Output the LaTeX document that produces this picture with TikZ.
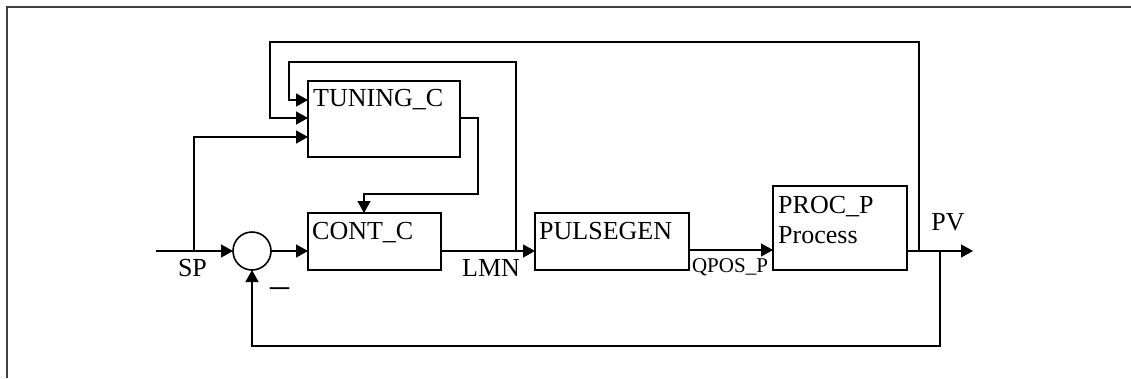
\documentclass[tikz,border=0pt]{standalone}
\usepackage{fontspec}
\setmainfont{Liberation Serif}
\usetikzlibrary{arrows.meta}
\begin{document}
\begin{tikzpicture}[x=1pt,y=-1pt,
  wire/.style={line width=1.6pt},
  arr/.style={wire,-{Triangle[length=12pt,width=13pt]}},
  block/.style={draw,line width=1.6pt,rectangle,inner sep=0pt,outer sep=0pt},
  txt/.style={font=\fontsize{26}{30}\selectfont,inner sep=0pt,anchor=base west},
  lbl/.style={font=\fontsize{26}{30}\selectfont,inner sep=0pt,anchor=base}]
\useasboundingbox (0,0) rectangle (1131,378);
\draw[line width=2pt,black!75] (7,378) -- (7,7) -- (1131,7);
% blocks
\node[block,minimum width=152pt,minimum height=76pt] (tun) at (384,119) {};
\node[block,minimum width=133pt,minimum height=57pt] (cont) at (374.5,241.5) {};
\node[block,minimum width=154pt,minimum height=57pt] (pulse) at (612,241.5) {};
\node[block,minimum width=134pt,minimum height=84pt] (proc) at (840,228) {};
\node[draw,circle,line width=1.6pt,minimum size=38pt,inner sep=0pt,outer sep=0pt] (sum) at (252,251) {};
% block texts
\node[txt] (tuntxt) at (313,106) {TUNING\_C};
\node[txt] (conttxt) at (312,239) {CONT\_C};
\node[txt] (pulsetxt) at (539,239) {PULSEGEN};
\node[txt] (proctxt) at (778,213) {PROC\_P};
\node[txt] (proctxt2) at (778,243) {Process};
% labels
\node[lbl] (sp) at (192.5,276) {SP};
\node[lbl] (lmn) at (491,276) {LMN};
\node[lbl,font=\fontsize{21}{24}\selectfont] (qpos) at (730,272) {QPOS\_P};
\node[lbl] (pv) at (948,230) {PV};
\node[lbl,font=\fontsize{38}{40}\selectfont] (minus) at (280,297) {–};
% coordinates
\coordinate (spin) at (156,251);
\coordinate (spbr) at (194,251);
\coordinate (lmnbr) at (516,251);
\coordinate (pvbr1) at (919,251);
\coordinate (pvbr2) at (940,251);
\coordinate (pvout) at (973,251);
\coordinate (fbcorner) at (940,346);
\coordinate (fbcorner2) at (252,346);
\coordinate (o1) at (919,42);
\coordinate (o2) at (270,42);
\coordinate (o3) at (270,118);
\coordinate (i1) at (516,62);
\coordinate (i2) at (289,62);
\coordinate (i3) at (289,100);
\coordinate (s1) at (194,137);
\coordinate (t1) at (460,118);
\coordinate (t2) at (478,118);
\coordinate (t3) at (478,194);
\coordinate (t4) at (364,194);
% main path
\draw[arr] (spin) -- (sum.west);
\draw[arr] (sum.east) -- (sum.east -| cont.west);
\draw[arr] (sum.east -| cont.east) -- (sum.east -| pulse.west);
\draw[arr] (pulse.east |- 0,250) -- (proc.west |- 0,250);
\draw[arr] (sum.east -| proc.east) -- (pvout);
\draw[arr] (pvbr2) -- (fbcorner) -- (fbcorner2) -- (sum.south);
% tuning inputs
\draw[arr] (pvbr1) -- (o1) -- (o2) -- (o3) -- (o3 -| tun.west);
\draw[arr] (lmnbr) -- (i1) -- (i2) -- (i3) -- (i3 -| tun.west);
\draw[arr] (spbr) -- (s1) -- (s1 -| tun.west);
% tuning output
\draw[arr] (t1) -- (t2) -- (t3) -- (t4) -- (t4 |- cont.north);
\end{tikzpicture}
\end{document}
